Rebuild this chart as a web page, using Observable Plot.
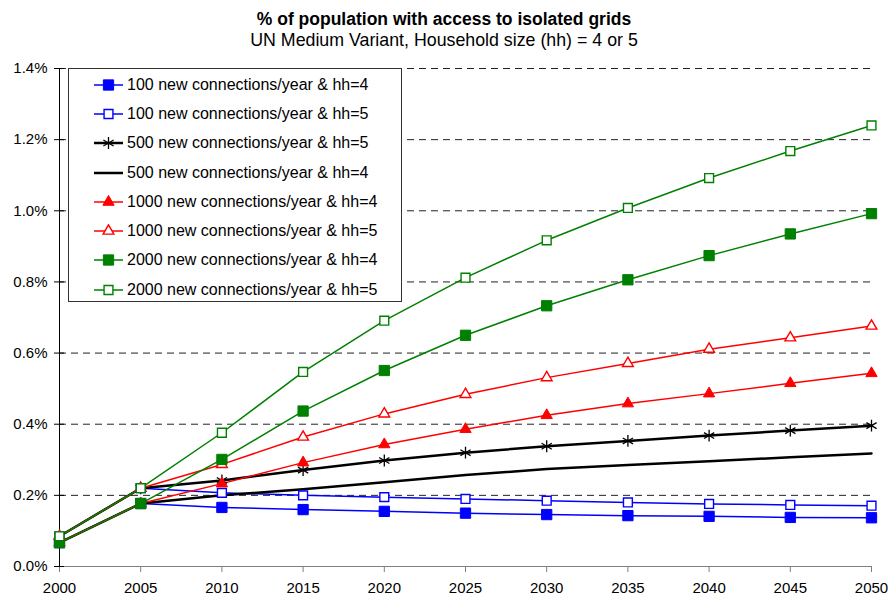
<!DOCTYPE html>
<html>
<head>
<meta charset="utf-8">
<script src="https://cdn.jsdelivr.net/npm/d3@7"></script>
<script src="https://cdn.jsdelivr.net/npm/@observablehq/plot@0.6"></script>
<style>
  html, body { margin: 0; padding: 0; background: #fff; }
  #wrap { position: relative; width: 888px; height: 601px; overflow: hidden; font-family: "Liberation Sans", Arial, sans-serif; }
  #title { position: absolute; left: 0; top: 10px; width: 888px; text-align: center; font-weight: bold; font-size: 17.5px; line-height: 18px; color: #000; }
  #subtitle { position: absolute; left: 0; top: 31px; width: 888px; text-align: center; font-size: 17.8px; line-height: 18px; color: #000; }
  #chart { position: absolute; left: 0; top: 50px; }
  #legend { position: absolute; left: 68px; top: 68px; width: 334px; height: 234px; background: #fff; border: 1px solid #333; box-sizing: border-box; padding-top: 1px; }
  .row { height: 29.3px; display: flex; align-items: center; font-size: 16px; color: #000; white-space: nowrap; }
  .row svg { margin-left: 24px; margin-right: 3px; }
</style>
</head>
<body>
<div id="wrap">
  <div id="title">% of population with access to isolated grids</div>
  <div id="subtitle">UN Medium Variant, Household size (hh) = 4 or 5</div>
  <div id="chart"></div>
  <div id="legend"></div>
</div>
<script>
const years = [2000, 2005, 2010, 2015, 2020, 2025, 2030, 2035, 2040, 2045, 2050];
const yTicks = [0, 0.2, 0.4, 0.6, 0.8, 1.0, 1.2, 1.4];
const seriesNames = [
  "100 new connections/year & hh=4",
  "100 new connections/year & hh=5",
  "500 new connections/year & hh=5",
  "500 new connections/year & hh=4",
  "1000 new connections/year & hh=4",
  "1000 new connections/year & hh=5",
  "2000 new connections/year & hh=4",
  "2000 new connections/year & hh=5"
];
const c100hh4  = [0.067, 0.177, 0.166, 0.160, 0.155, 0.150, 0.146, 0.143, 0.141, 0.138, 0.137];
const c100hh5  = [0.085, 0.220, 0.207, 0.200, 0.195, 0.190, 0.185, 0.180, 0.176, 0.173, 0.171];
const c500hh5  = [0.085, 0.220, 0.242, 0.271, 0.298, 0.320, 0.338, 0.353, 0.368, 0.382, 0.396];
const c500hh4  = [0.067, 0.177, 0.200, 0.217, 0.237, 0.257, 0.274, 0.285, 0.296, 0.307, 0.318];
const c1000hh4 = [0.067, 0.177, 0.233, 0.292, 0.343, 0.386, 0.425, 0.458, 0.486, 0.515, 0.543];
const c1000hh5 = [0.085, 0.220, 0.287, 0.364, 0.429, 0.484, 0.531, 0.571, 0.611, 0.643, 0.676];
const c2000hh4 = [0.067, 0.177, 0.301, 0.437, 0.551, 0.650, 0.733, 0.806, 0.874, 0.935, 0.992];
const c2000hh5 = [0.085, 0.220, 0.376, 0.547, 0.691, 0.812, 0.917, 1.008, 1.092, 1.168, 1.240];

const values = [c100hh4, c100hh5, c500hh5, c500hh4, c1000hh4, c1000hh5, c2000hh4, c2000hh5];

// styles per series
const styles = [
  {color: "#0000ff", lw: 1.5, symbol: "square", fill: "#0000ff", r: 5.8},
  {color: "#0000ff", lw: 1.5, symbol: "square", fill: "#fff", r: 5.0},
  {color: "#000000", lw: 2.5, symbol: "asterisk", fill: "none", r: 5.6},
  {color: "#000000", lw: 2.5, symbol: null},
  {color: "#ff0000", lw: 1.5, symbol: "triangle", fill: "#ff0000", r: 4.2},
  {color: "#ff0000", lw: 1.5, symbol: "triangle", fill: "#fff", r: 4.0},
  {color: "#008000", lw: 1.5, symbol: "square", fill: "#008000", r: 5.8},
  {color: "#008000", lw: 1.5, symbol: "square", fill: "#fff", r: 5.0}
];

const tables = values.map(v => years.map((y, i) => ({year: y, value: v[i]})));

const marks = [
  Plot.ruleY(yTicks.filter(d => d > 0), {stroke: "#222", strokeDasharray: "7,5", strokeWidth: 1}),
  Plot.ruleY([0], {stroke: "#808080", strokeWidth: 1}),
  Plot.ruleX([2000], {stroke: "#000", strokeWidth: 1}),
  Plot.axisX({ticks: years, tickFormat: d => String(d), tickSize: 6, tickPadding: 10, stroke: "#808080", fontSize: 15, color: "#000", label: null}),
  Plot.axisY({ticks: yTicks, tickFormat: d => d.toFixed(1) + "%", tickSize: 10, dx: 5, tickPadding: 7, fontSize: 15, label: null})
];
tables.forEach((t, i) => {
  const s = styles[i];
  marks.push(Plot.line(t, {x: "year", y: "value", stroke: s.color, strokeWidth: s.lw}));
});
tables.forEach((t, i) => {
  const s = styles[i];
  if (!s.symbol) return;
  if (s.symbol === "asterisk") {
    marks.push(Plot.dot(t, {x: "year", y: "value", symbol: "asterisk", r: s.r, stroke: s.color, strokeWidth: 1.3}));
  } else {
    marks.push(Plot.dot(t, {x: "year", y: "value", symbol: s.symbol, r: s.r, fill: s.fill, stroke: s.color, strokeWidth: s.fill === "#fff" ? 1.4 : 1}));
  }
});

const chart = Plot.plot({
  width: 888,
  height: 551,
  marginTop: 18,
  marginBottom: 35,
  marginLeft: 59,
  marginRight: 17,
  style: {fontFamily: '"Liberation Sans", Arial, sans-serif', fontSize: "15px", color: "#000", background: "#fff"},
  x: {domain: [2000, 2050], axis: null},
  y: {domain: [0, 1.4], axis: null},
  marks
});
document.getElementById("chart").appendChild(chart);

// legend overlay
const legend = d3.select("#legend");
const symMap = {square: d3.symbolSquare, triangle: d3.symbolTriangle, asterisk: d3.symbolAsterisk};
seriesNames.forEach((name, i) => {
  const s = styles[i];
  const row = legend.append("div").attr("class", "row");
  const svg = row.append("svg").attr("width", 31).attr("height", 14);
  svg.append("line").attr("x1", 1).attr("x2", 30).attr("y1", 7).attr("y2", 7)
    .attr("stroke", s.color).attr("stroke-width", s.lw);
  if (s.symbol) {
    const path = d3.symbol(symMap[s.symbol], s.r * s.r * Math.PI)();
    const p = svg.append("path").attr("d", path).attr("transform", "translate(15.5,7)");
    if (s.symbol === "asterisk") p.attr("fill", "none").attr("stroke", s.color).attr("stroke-width", 1.3);
    else p.attr("fill", s.fill).attr("stroke", s.color).attr("stroke-width", s.fill === "#fff" ? 1.4 : 1);
  }
  row.append("span").text(name);
});
</script>
</body>
</html>
